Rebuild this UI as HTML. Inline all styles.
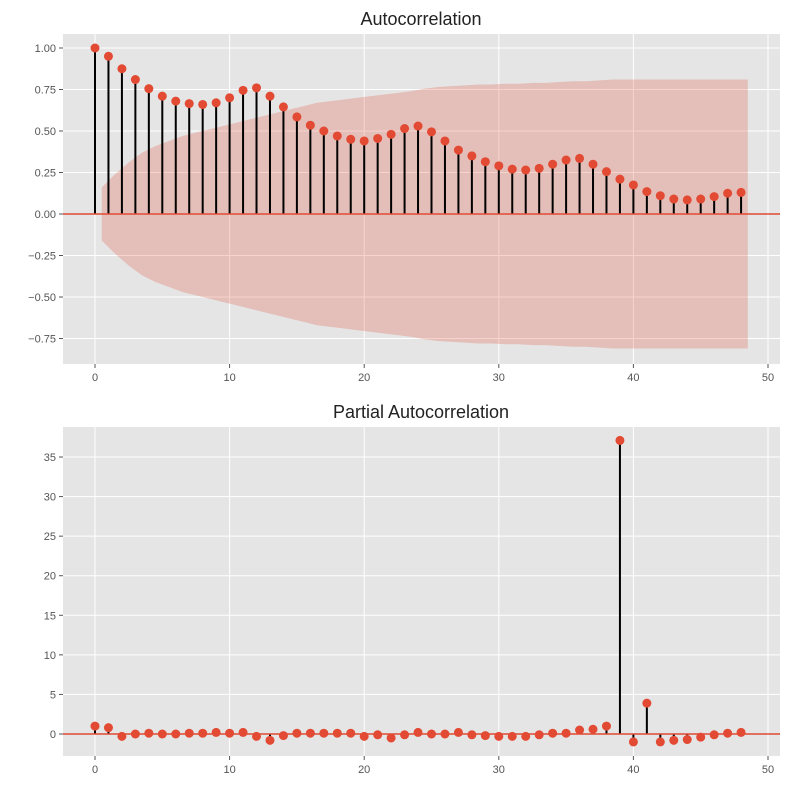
<!DOCTYPE html>
<html><head><meta charset="utf-8"><style>
body{margin:0;background:#fff;font-family:"Liberation Sans",sans-serif}
svg text{font-family:"Liberation Sans",sans-serif}
</style></head><body>
<svg id="c" width="790" height="790" xmlns="http://www.w3.org/2000/svg"></svg>
<script>
const acfValues=[1.00,0.95,0.875,0.81,0.755,0.71,0.68,0.665,0.66,0.67,0.70,0.745,0.76,0.71,0.645,0.585,0.535,0.50,0.47,0.45,0.44,0.455,0.48,0.515,0.53,0.495,0.44,0.385,0.35,0.315,0.29,0.27,0.265,0.275,0.30,0.325,0.335,0.30,0.255,0.21,0.175,0.135,0.11,0.09,0.085,0.09,0.105,0.125,0.13];
const pacfValues=[1.0,0.8,-0.3,0,0.1,0,0,0.1,0.1,0.2,0.1,0.2,-0.3,-0.8,-0.2,0.1,0.1,0.1,0.1,0.1,-0.3,-0.1,-0.5,-0.1,0.2,0,0,0.2,-0.1,-0.2,-0.3,-0.3,-0.3,-0.1,0.1,0.1,0.5,0.6,1.0,37.1,-1.0,3.9,-1.0,-0.8,-0.7,-0.4,-0.1,0.1,0.2];
const confBand=[0.16,0.24,0.31,0.37,0.41,0.44,0.47,0.49,0.51,0.53,0.55,0.57,0.59,0.61,0.63,0.65,0.67,0.68,0.69,0.70,0.71,0.72,0.73,0.74,0.755,0.765,0.77,0.775,0.78,0.78,0.785,0.785,0.79,0.79,0.795,0.80,0.80,0.805,0.81,0.81,0.81,0.81,0.81,0.81,0.81,0.81,0.81,0.81];
const xTicks=[0,10,20,30,40,50];
const acfYTicks=[-0.75,-0.5,-0.25,0,0.25,0.5,0.75,1.0];
const acfYLabels=["−0.75","−0.50","−0.25","0.00","0.25","0.50","0.75","1.00"];
const pacfYTicks=[0,5,10,15,20,25,30,35];
const svg=document.getElementById('c');
const NS="http://www.w3.org/2000/svg";
function mk(t,a,p){const e=document.createElementNS(NS,t);for(const k in a)e.setAttribute(k,a[k]);(p||svg).appendChild(e);return e;}
const X=v=>95+v*13.46;
function panel(cfg){
  const g=mk('g',{});
  
  
  const bg=mk('rect',{x:63,y:cfg.top,width:717,height:cfg.bottom-cfg.top,fill:'#e5e5e5'},g);
  
  
  const Y=cfg.Y;
  xTicks.forEach(t=>{
    mk('line',{x1:X(t),x2:X(t),y1:cfg.top,y2:cfg.bottom,stroke:'#fff','stroke-width':1},g);
    mk('line',{x1:X(t),x2:X(t),y1:cfg.bottom,y2:cfg.bottom+4,stroke:'#555'},g);
    const tx=mk('text',{x:X(t),y:cfg.bottom+17,'text-anchor':'middle','font-size':11,fill:'#555'},g);
    tx.textContent=t;
    
    
  });
  cfg.yTicks.forEach((t,i)=>{
    mk('line',{x1:63,x2:780,y1:Y(t),y2:Y(t),stroke:'#fff','stroke-width':1},g);
    mk('line',{x1:59,x2:63,y1:Y(t),y2:Y(t),stroke:'#555'},g);
    const tx=mk('text',{x:56,y:Y(t)+4,'text-anchor':'end','font-size':11,fill:'#555'},g);
    tx.textContent=cfg.yLabels?cfg.yLabels[i]:t;
    
    
  });
  if(cfg.band){
    let up=[],lo=[];
    cfg.band.forEach((ci,i)=>{
      const k=i+1;
      up.push([X(k-0.5),Y(ci)]);lo.push([X(k-0.5),Y(-ci)]);
      if(i===cfg.band.length-1){up.push([X(k+0.5),Y(ci)]);lo.push([X(k+0.5),Y(-ci)]);}
    });
    const pts=up.concat(lo.reverse()).map(p=>p.join(',')).join(' ');
    const b=mk('polygon',{points:pts,fill:'#E24A33','fill-opacity':0.25},g);
    
    
  }
  cfg.vals.forEach((v,i)=>{
    const l=mk('line',{x1:X(i),x2:X(i),y1:Y(0),y2:Y(v),stroke:'#000','stroke-width':2},g);
    
    
  });
  const z=mk('line',{x1:63,x2:780,y1:Y(0),y2:Y(0),stroke:'#E24A33','stroke-width':1.5},g);
  
  
  cfg.vals.forEach((v,i)=>{
    const c=mk('circle',{cx:X(i),cy:Y(v),r:4.5,fill:'#E24A33'},g);
    
    
  });
  const tt=mk('text',{x:421,y:cfg.top-9,'text-anchor':'middle','font-size':18,fill:'#222'},g);
  tt.textContent=cfg.title;
  
  
}
panel({name:'acf-panel',top:34,bottom:364,Y:v=>214-v*166,vals:acfValues,yTicks:acfYTicks,yLabels:acfYLabels,band:confBand,title:'Autocorrelation'});
panel({name:'pacf-panel',top:427,bottom:756,Y:v=>734-v*7.914,vals:pacfValues,yTicks:pacfYTicks,band:null,title:'Partial Autocorrelation'});
</script>
</body></html>
